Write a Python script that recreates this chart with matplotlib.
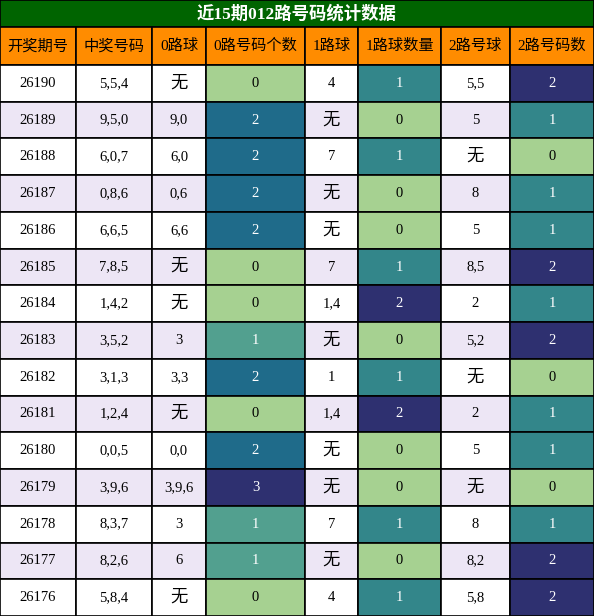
import matplotlib
matplotlib.use("Agg")
import matplotlib.pyplot as plt
from matplotlib.patches import Rectangle

title = "近15期012路号码统计数据"
headers = ["开奖期号", "中奖号码", "0路球", "0路号码个数", "1路球", "1路球数量", "2路号球", "2路号码数"]
periods = ["26190","26189","26188","26187","26186","26185","26184","26183","26182","26181","26180","26179","26178","26177","26176"]
numbers = ["5,5,4","9,5,0","6,0,7","0,8,6","6,6,5","7,8,5","1,4,2","3,5,2","3,1,3","1,2,4","0,0,5","3,9,6","8,3,7","8,2,6","5,8,4"]
zero_balls = ["无","9,0","6,0","0,6","6,6","无","无","3","3,3","无","0,0","3,9,6","3","6","无"]
zero_counts = [0,2,2,2,2,0,0,1,2,0,2,3,1,1,0]
one_balls = ["4","无","7","无","无","7","1,4","无","1","1,4","无","无","7","无","4"]
one_counts = [1,0,1,0,0,1,2,0,1,2,0,0,1,0,1]
two_balls = ["5,5","5","无","8","5","8,5","2","5,2","无","2","5","无","8","8,2","5,8"]
two_counts = [2,1,0,1,1,2,1,2,0,1,1,0,1,2,2]

col_x = [0, 76, 152, 206, 305, 358, 441, 510, 594]
W, H = 594, 616
title_h, head_h = 27, 38
row_h = (H - title_h - head_h) / len(periods)

zero_cmap = {0: "#a6d191", 1: "#52a08f", 2: "#1f6b8a", 3: "#2e3070"}
other_cmap = {0: "#a6d191", 1: "#33868a", 2: "#2e3070"}
fam = ["Liberation Serif", "Noto Sans CJK SC"]

fig = plt.figure(figsize=(W/100, H/100), dpi=100)
ax = fig.add_axes([0, 0, 1, 1])
ax.set_xlim(0, W); ax.set_ylim(H, 0); ax.axis("off")

def cell(x0, x1, y0, y1, fc, txt, tc="black", size=10.5, weight="normal"):
    ax.add_patch(Rectangle((x0, y0), x1-x0, y1-y0, facecolor=fc, edgecolor="black", lw=1.2))
    if txt == "无":
        size = size + 2
    ax.text((x0+x1)/2, (y0+y1)/2, txt, ha="center", va="center", color=tc,
            fontsize=size, family=fam, fontweight=weight)

cell(0, W, 0, title_h, "#006400", title, "white", 12.5, "bold")
for i, h in enumerate(headers):
    cell(col_x[i], col_x[i+1], title_h, title_h+head_h, "#ff8c00", h, "black", 11)

for r in range(len(periods)):
    y0 = title_h + head_h + r*row_h
    y1 = y0 + row_h
    bg = "white" if r % 2 == 0 else "#ede6f5"
    vals = [periods[r], numbers[r], zero_balls[r], zero_counts[r], one_balls[r], one_counts[r], two_balls[r], two_counts[r]]
    for c, v in enumerate(vals):
        if c == 3:
            fc = zero_cmap[v]
        elif c in (5, 7):
            fc = other_cmap[v]
        else:
            fc = bg
        tc = "white" if c in (3, 5, 7) and v != 0 else "black"
        cell(col_x[c], col_x[c+1], y0, y1, fc, str(v), tc)

fig.savefig("out.png", dpi=100)
